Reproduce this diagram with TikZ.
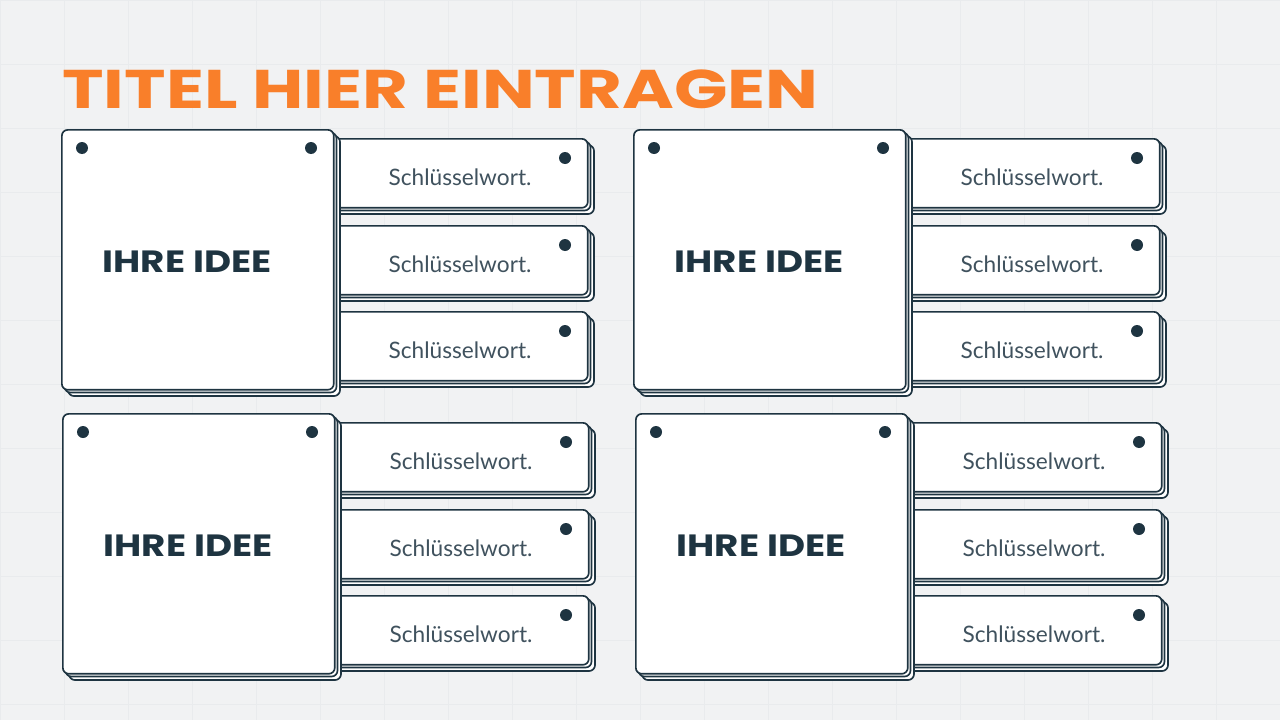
\documentclass[tikz,border=0pt]{standalone}
\usepackage{fontspec}
\setmainfont{Poppins}
\newfontfamily\kwfont{Lato}
\usepackage{graphicx}
\definecolor{ink}{HTML}{1E3441}
\definecolor{titleorange}{HTML}{F97F2A}
\definecolor{paper}{HTML}{F1F2F3}
\definecolor{gridline}{HTML}{E9EBED}

\begin{document}
\begin{tikzpicture}[x=0.02cm,y=-0.02cm,
        sheet/.style={draw=ink, line width=0.95pt, fill=white, rounded corners=0.12cm},
        kwtext/.style={font=\kwfont\fontsize{12.9}{15}\selectfont, text=ink!85},
        ideatext/.style={font=\bfseries\fontsize{17.5}{20}\selectfont, text=ink}]
    \useasboundingbox (0,0) rectangle (1280,720);
    \fill[paper] (0,0) rectangle (1280,720);
    \foreach \x in {0,64,...,1280} \draw[gridline, very thin] (\x,0) -- (\x,720);
    \foreach \y in {0,64,...,720} \draw[gridline, very thin] (0,\y) -- (1280,\y);
    \node[anchor=base west, inner sep=0, text=titleorange,
          font=\bfseries\fontsize{31}{34}\selectfont] (title) at (62,108)
          {\scalebox{1.29}[1]{TITEL HIER EINTRAGEN}};
    \foreach \g/\dx/\dy in {1/0/0, 2/572/0, 3/1/284, 4/574/284} {
        \begin{scope}[shift={(\dx,\dy)}]
            % Schluesselwoerter
            \foreach \k/\ky in {1/138, 2/225, 3/311} {
                \draw[sheet] (328,\ky+7) rectangle (594,\ky+76);
                \draw[sheet] (324,\ky+3.5) rectangle (590.5,\ky+72.5);
                \node[sheet, anchor=north west, minimum width=5.34cm, minimum height=1.38cm] (kw\g\k) at (320,\ky) {};
                \fill[ink] (565,\ky+20) circle[radius=0.12cm];
                \node[kwtext] (kt\g\k) at (460,\ky+39) {Schlüsselwort.};
            }
            % Ideenkarte
            \draw[sheet] (68,136) rectangle (340,396);
            \draw[sheet] (64.5,132.5) rectangle (336.5,392.5);
            \node[sheet, anchor=north west, minimum width=5.44cm, minimum height=5.2cm] (card\g) at (61,129) {};
            \fill[ink] (82,148) circle[radius=0.12cm];
            \fill[ink] (311,148) circle[radius=0.12cm];
            \node[ideatext] (idea\g) at (187,262) {\scalebox{1.21}[1]{IHRE IDEE}};
        \end{scope}
    }
\end{tikzpicture}
\end{document}
